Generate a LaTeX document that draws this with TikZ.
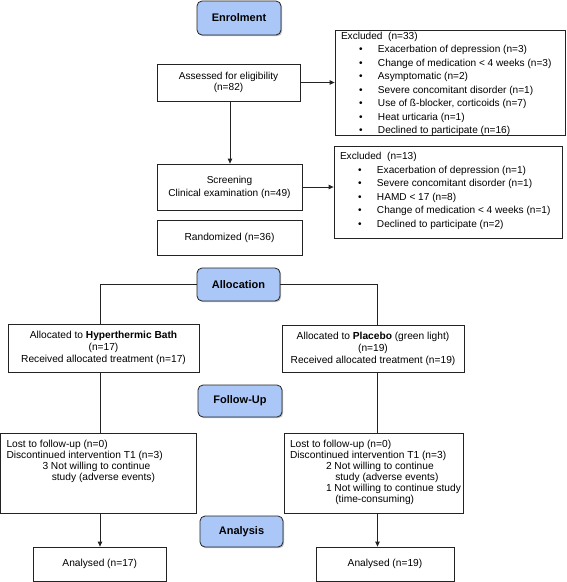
\documentclass[tikz,border=0pt]{standalone}
\usepackage{fontspec}
\setmainfont{Liberation Sans}
\usetikzlibrary{arrows.meta,shadows}
\definecolor{phase}{RGB}{170,199,247}
\definecolor{edge}{RGB}{35,35,35}
\newcommand{\bul}{\par\hspace*{18pt}\makebox[19pt][l]{\textbullet}}
\tikzset{
  box/.style={draw=edge, line width=0.8pt, rectangle, inner sep=0pt, align=center,
    font=\fontsize{10.2}{11.8}\selectfont},
  listbox/.style={draw=edge, line width=0.8pt, rectangle, inner xsep=6pt, inner ysep=0pt,
    font=\fontsize{10.1}{13.5}\selectfont},
  phasebox/.style={draw=edge, line width=0.8pt, fill=phase, rounded corners=5pt,
    inner sep=0pt, font=\fontsize{11}{13}\selectfont\bfseries,
    drop shadow={shadow xshift=1.2pt, shadow yshift=-1.2pt, fill=black, opacity=0.25}},
  sz/.style 2 args={minimum width=#1, minimum height=#2},
  link/.style={draw=edge, line width=0.8pt},
  arr/.style={link, -{Triangle[length=5pt,width=4.5pt]}},
}
\begin{document}
\begin{tikzpicture}[x=1pt,y=-1pt]
\useasboundingbox (0,0) rectangle (567,582);

% enrolment section
\node[phasebox, sz={84pt}{34pt}] (enrol) at (239,18) {Enrolment};
\node[box, sz={143pt}{37pt}, font=\fontsize{10.1}{11.5}\selectfont] (assess) at (228.5,82.5)
  {Assessed for eligibility\\(n=82)};
\node[listbox] (excl1) at (450,82.5) {\parbox[c][105pt][t]{218pt}{\raggedright
  \rule{0pt}{9pt}Excluded\ \ (n=33)
  \bul Exacerbation of depression (n=3)
  \bul Change of medication < 4 weeks (n=3)
  \bul Asymptomatic (n=2)
  \bul Severe concomitant disorder (n=1)
  \bul Use of ß-blocker, corticoids (n=7)
  \bul Heat urticaria (n=1)
  \bul Declined to participate (n=16)}};
\node[box, sz={145pt}{46pt}, font=\fontsize{10.1}{13}\selectfont] (screen) at (229.5,187)
  {Screening\\Clinical examination (n=49)};
\node[listbox] (excl2) at (448,192) {\parbox[c][92pt][t]{216pt}{\raggedright
  \rule{0pt}{13.5pt}Excluded\ \ (n=13)
  \bul Exacerbation of depression (n=1)
  \bul Severe concomitant disorder (n=1)
  \bul HAMD < 17 (n=8)
  \bul Change of medication < 4 weeks (n=1)
  \bul Declined to participate (n=2)}};
\node[box, sz={145pt}{35pt}] (rand) at (229.5,237.5) {Randomized (n=36)};

\coordinate (vx) at (230,0);
\draw[arr] (assess.south -| vx) -- (screen.north -| vx);
\draw[arr] (assess.east) -- (assess.east -| excl1.west);
\draw[arr] (screen.east) -- (screen.east -| excl2.west);

% allocation section
\node[phasebox, sz={83pt}{33pt}] (alloc) at (238.5,284.5) {Allocation};
\node[box, sz={191pt}{48pt}] (hyp) at (103.5,348)
  {Allocated to \textbf{Hyperthermic Bath}\\(n=17)\\Received allocated treatment (n=17)};
\node[box, sz={182pt}{47.5pt}] (plac) at (373,348.75)
  {Allocated to \textbf{Placebo} (green light)\\(n=19)\\Received allocated treatment (n=19)};
\coordinate (lx) at (100,0);
\coordinate (rx) at (377.5,0);
\draw[link] (alloc.west) -| (hyp.north -| lx);
\draw[link] (alloc.east) -| (plac.north -| rx);

% follow-up section
\node[phasebox, sz={84pt}{32pt}] (follow) at (240,401) {Follow-Up};
\node[listbox] (lostL) at (98.5,473) {\parbox[c][80pt][t]{184pt}{\raggedright
  \fontsize{10.2}{11}\selectfont
  \rule{0pt}{14pt}Lost to follow-up (n=0)\par
  Discontinued intervention T1 (n=3)\par
  \hspace*{36pt}3 Not willing to continue\par
  \hspace*{45.3pt}study (adverse events)}};
\node[listbox] (lostR) at (373.5,473) {\parbox[c][80pt][t]{167pt}{\raggedright
  \fontsize{10.2}{11}\selectfont
  \rule{0pt}{14pt}Lost to follow-up (n=0)\par
  Discontinued intervention T1 (n=3)\par
  \hspace*{36pt}2 Not willing to continue\par
  \hspace*{45.3pt}study (adverse events)\par
  \hspace*{36pt}\mbox{1 Not willing to continue study}\par
  \hspace*{45.3pt}(time-consuming)}};
\draw[link] (hyp.south -| lx) -- (lostL.north -| lx);
\draw[link] (plac.south -| rx) -- (lostR.north -| rx);

% analysis section
\node[phasebox, sz={83pt}{31pt}] (analysis) at (241.5,531.5) {Analysis};
\node[box, sz={132.5pt}{34pt}] (anL) at (99.75,564) {Analysed (n=17)};
\node[box, sz={138pt}{34pt}] (anR) at (385,564) {Analysed (n=19)};
\draw[arr] (lostL.south -| lx) -- (anL.north -| lx);
\draw[arr] (lostR.south -| rx) -- (anR.north -| rx);
\end{tikzpicture}
\end{document}
